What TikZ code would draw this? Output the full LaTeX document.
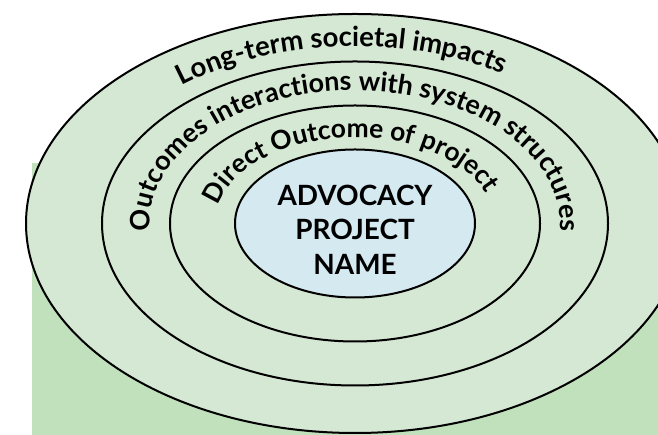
\documentclass[tikz,border=0pt]{standalone}
\usepackage{fontspec}
\setmainfont{Lato}
\usetikzlibrary{decorations.text}
\definecolor{ringgreen}{HTML}{D5E8D4}
\definecolor{backgreen}{HTML}{C1E0BC}
\definecolor{coreblue}{HTML}{D5E9F0}
\newcommand\ringfont{\bfseries\fontsize{27}{32}\selectfont}
\newcommand\outerfont{\bfseries\fontsize{27.6}{32}\selectfont}
\newcommand\innerfont{\bfseries\fontsize{26.5}{32}\selectfont}
\begin{document}
\begin{tikzpicture}[x=1bp,y=1bp,
  ring/.style={fill=ringgreen, draw=black, line width=2bp},
  core/.style={fill=coreblue, draw=black, line width=2bp},
  ringtext/.style 2 args={decorate, decoration={text along path, text align=center, text={|#1|#2}}}]
\useasboundingbox (0,0) rectangle (658,435);
\clip (0,0) rectangle (658,435);
\fill[backgreen] (32,0) rectangle (658,272);
\coordinate (c) at (355,211.5);
\filldraw[ring] (c) ellipse [x radius=329, y radius=209.5];
\filldraw[ring] (c) ellipse [x radius=253, y radius=162];
\filldraw[ring] (c) ellipse [x radius=185, y radius=118];
\filldraw[core] (c) ellipse [x radius=120, y radius=74];
\path[ringtext={\outerfont}{Long-term societal impacts}] (c) ++(184.5:276 and 177) arc[start angle=184.5, end angle=4.5, x radius=276, y radius=177];
\path[ringtext={\ringfont}{Outcomes interactions with system structures}] (c) ++(188:205 and 133) arc[start angle=188, end angle=-8, x radius=205, y radius=133];
\path[ringtext={\innerfont}{Direct Outcome of project}] (c) ++(188:140 and 86) arc[start angle=188, end angle=1, x radius=140, y radius=86];
\node[align=center, font=\bfseries\fontsize{28}{35}\selectfont, inner sep=0pt] (name) at (355,205.3) {ADVOCACY\\PROJECT\\NAME};
\end{tikzpicture}
\end{document}
